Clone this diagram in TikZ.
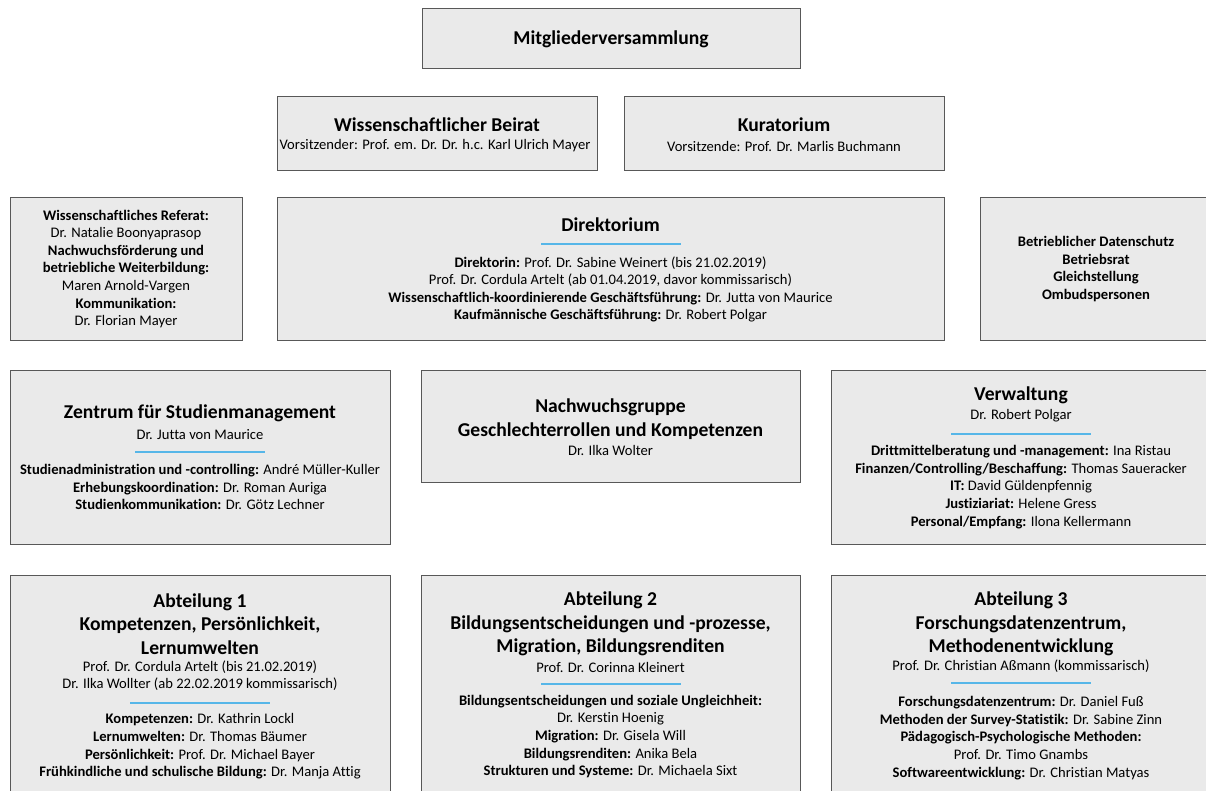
\documentclass[tikz,border=0pt]{standalone}
\usepackage{fontspec}
\setmainfont{Carlito}[Ligatures=NoCommon]
\definecolor{boxgray}{RGB}{234,234,234}
\definecolor{framegray}{RGB}{88,88,88}
\definecolor{sepblue}{RGB}{86,182,232}
\newcommand{\headsize}{\fontsize{19.6}{23.5}\selectfont\bfseries}
\newcommand{\namesize}{\fontsize{14.6}{17.6}\selectfont}

\begin{document}
\begin{tikzpicture}[x=1pt, y=-1pt,
  unit/.style={draw=framegray, fill=boxgray, line width=0.9pt, inner sep=0pt},
  head/.style={align=center, font=\headsize, inner sep=0pt},
  info/.style={align=center, font=\namesize, inner sep=0pt},
  sepline/.style={fill=sepblue, minimum width=140pt, minimum height=1.4pt, inner sep=0pt}]
  \useasboundingbox (0,0) rectangle (1206,790);
  \clip (0,0) rectangle (1206,790);

  \node[unit, minimum width=378pt, minimum height=60pt] (mv) at (611,38) {};
  \node[unit, minimum width=320pt, minimum height=74pt] (beirat) at (437,133) {};
  \node[unit, minimum width=320pt, minimum height=74pt] (kurat) at (784,133) {};
  \node[unit, minimum width=232pt, minimum height=143pt] (referat) at (126,268.5) {};
  \node[unit, minimum width=667pt, minimum height=143pt] (dir) at (610.5,268.5) {};
  \node[unit, minimum width=232pt, minimum height=143pt] (stab) at (1096,268.5) {};
  \node[unit, minimum width=380pt, minimum height=174pt] (zentrum) at (200,457) {};
  \node[unit, minimum width=379pt, minimum height=112pt] (nwg) at (610.5,426) {};
  \node[unit, minimum width=380pt, minimum height=174pt] (verw) at (1021,457) {};
  \node[unit, minimum width=380pt, minimum height=240pt] (abt1) at (200,695) {};
  \node[unit, minimum width=379pt, minimum height=240pt] (abt2) at (610.5,695) {};
  \node[unit, minimum width=380pt, minimum height=240pt] (abt3) at (1021,695) {};

  \node[head] (mvtitle) at (611,39) {Mitgliederversammlung};

  \node[head] (beirattitle) at (437,125) {Wissenschaftlicher Beirat};
  \node[info] (beiratname) at (435,146) {Vorsitzender: Prof. em. Dr. Dr. h.c. Karl Ulrich Mayer};
  \node[head] (kurattitle) at (784,125) {Kuratorium};
  \node[info] (kuratname) at (784,146) {Vorsitzende: Prof. Dr. Marlis Buchmann};

  \node[info] (referattext) at (126,269) {\textbf{Wissenschaftliches Referat:}\\Dr. Natalie Boonyaprasop\\
    \textbf{Nachwuchsförderung und}\\\textbf{betriebliche Weiterbildung:}\\Maren Arnold-Vargen\\
    \textbf{Kommunikation:}\\Dr. Florian Mayer};

  \node[head] (dirtitle) at (610.5,225) {Direktorium};
  \node[sepline] (dirsep) at (610.5,244) {};
  \node[info] (dirtext) at (610.5,289.5) {\textbf{Direktorin:} Prof. Dr. Sabine Weinert (bis 21.02.2019)\\
    Prof. Dr. Cordula Artelt (ab 01.04.2019, davor kommissarisch)\\
    \textbf{Wissenschaftlich-koordinierende Geschäftsführung:} Dr. Jutta von Maurice\\
    \textbf{Kaufmännische Geschäftsführung:} Dr. Robert Polgar};

  \node[info, font=\namesize\bfseries] (stabtext) at (1096,269) {Betrieblicher Datenschutz\\Betriebsrat\\Gleichstellung\\Ombudspersonen};

  \node[head] (zentrumtitle) at (200,413) {Zentrum für Studienmanagement};
  \node[info] (zentrumname) at (200,435) {Dr. Jutta von Maurice};
  \node[sepline, minimum width=130pt] (zentrumsep) at (200,452) {};
  \node[info] (zentrumtext) at (200,487) {\textbf{Studienadministration und -controlling:} André Müller-Kuller\\
    \textbf{Erhebungskoordination:} Dr. Roman Auriga\\
    \textbf{Studienkommunikation:} Dr. Götz Lechner};

  \node[head] (nwgtitle) at (610.5,419) {Nachwuchsgruppe\\Geschlechterrollen und Kompetenzen};
  \node[info] (nwgname) at (610.5,450) {Dr. Ilka Wolter};

  \node[head] (verwtitle) at (1021,395) {Verwaltung};
  \node[info] (verwname) at (1021,416) {Dr. Robert Polgar};
  \node[sepline] (verwsep) at (1021,434) {};
  \node[info] (verwtext) at (1021,487) {\textbf{Drittmittelberatung und -management:} Ina Ristau\\
    \textbf{Finanzen/Controlling/Beschaffung:} Thomas Saueracker\\
    \textbf{IT:} David Güldenpfennig\\
    \textbf{Justiziariat:} Helene Gress\\
    \textbf{Personal/Empfang:} Ilona Kellermann};

  \node[head] (abt1title) at (200,624) {Abteilung 1\\Kompetenzen, Persönlichkeit,\\Lernumwelten};
  \node[info] (abt1name) at (200,675.5) {Prof. Dr. Cordula Artelt (bis 21.02.2019)\\Dr. Ilka Wollter (ab 22.02.2019 kommissarisch)};
  \node[sepline] (abt1sep) at (200,703) {};
  \node[info] (abt1text) at (200,746.5) {\textbf{Kompetenzen:} Dr. Kathrin Lockl\\
    \textbf{Lernumwelten:} Dr. Thomas Bäumer\\
    \textbf{Persönlichkeit:} Prof. Dr. Michael Bayer\\
    \textbf{Frühkindliche und schulische Bildung:} Dr. Manja Attig};

  \node[head] (abt2title) at (610.5,624) {Abteilung 2\\Bildungsentscheidungen und -prozesse,\\Migration, Bildungsrenditen};
  \node[info] (abt2name) at (610.5,667) {Prof. Dr. Corinna Kleinert};
  \node[sepline] (abt2sep) at (610.5,684) {};
  \node[info] (abt2text) at (610.5,736.5) {\textbf{Bildungsentscheidungen und soziale Ungleichheit:}\\
    Dr. Kerstin Hoenig\\
    \textbf{Migration:} Dr. Gisela Will\\
    \textbf{Bildungsrenditen:} Anika Bela\\
    \textbf{Strukturen und Systeme:} Dr. Michaela Sixt};

  \node[head] (abt3title) at (1021,624) {Abteilung 3\\Forschungsdatenzentrum,\\Methodenentwicklung};
  \node[info] (abt3name) at (1021,666) {Prof. Dr. Christian Aßmann (kommissarisch)};
  \node[sepline] (abt3sep) at (1021,683) {};
  \node[info] (abt3text) at (1021,738) {\textbf{Forschungsdatenzentrum:} Dr. Daniel Fuß\\
    \textbf{Methoden der Survey-Statistik:} Dr. Sabine Zinn\\
    \textbf{Pädagogisch-Psychologische Methoden:}\\
    Prof. Dr. Timo Gnambs\\
    \textbf{Softwareentwicklung:} Dr. Christian Matyas};
\end{tikzpicture}
\end{document}
